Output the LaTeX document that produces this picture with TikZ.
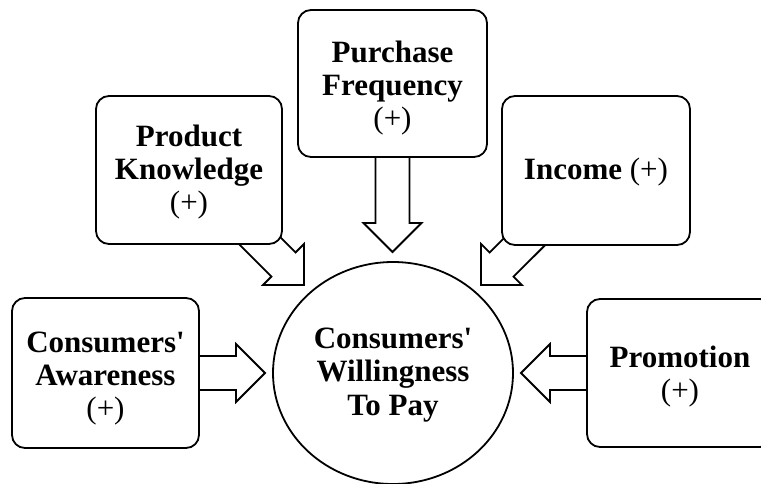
\documentclass[tikz,border=0pt]{standalone}
\usepackage{fontspec}
\setmainfont{Liberation Serif}
\usetikzlibrary{calc,shapes.geometric,backgrounds}
\tikzset{
  box/.style={draw,line width=1.8pt,fill=white,rounded corners=13pt,inner sep=0pt},
  txt/.style={align=center,inner sep=0pt,font=\fontsize{31}{33}\selectfont\bfseries},
  circ/.style={draw,line width=1.8pt,fill=white,ellipse,
    minimum width=240pt,minimum height=222pt,inner sep=0pt},
  barrow/.style={draw,line width=1.8pt,fill=white,line join=miter}
}
\newcommand\blockarrow[2]{%
  \path coordinate (hb) at ($(#2)!29pt!(#1)$);
  \path[barrow] ($(#1)!17pt!90:(#2)$) -- ($(hb)!17pt!90:(#2)$) -- ($(hb)!29pt!90:(#2)$)
    -- (#2) -- ($(hb)!29pt!-90:(#2)$) -- ($(hb)!17pt!-90:(#2)$)
    -- ($(#1)!17pt!-90:(#2)$) -- cycle;
}
\begin{document}
\begin{tikzpicture}[x=1pt,y=-1pt]
\useasboundingbox (0,0) rectangle (761,483);
\node[circ] (wtp) at (393,373) {};
\node[box,minimum width=187pt,minimum height=150pt] (aw) at (105.5,373) {};
\node[box,minimum width=186pt,minimum height=148pt] (pk) at (189,170) {};
\node[box,minimum width=189pt,minimum height=147pt] (pf) at (392.5,83.5) {};
\node[box,minimum width=188pt,minimum height=149pt] (inc) at (596,170.5) {};
\node[box,minimum width=186pt,minimum height=148pt] (pr) at (680,373) {};
\node[txt,font=\fontsize{31}{33.5}\selectfont\bfseries] (wtpt) at ($(wtp.center)+(0,2)$) {Consumers\textquotesingle\\Willingness\\To Pay};
\node[txt] (awt) at ($(aw.center)+(0,6)$) {Consumers\textquotesingle\\Awareness\\{\mdseries(+)}};
\node[txt] (pkt) at ($(pk.center)+(0,2)$) {Product\\Knowledge\\{\mdseries(+)}};
\node[txt] (pft) at ($(pf.center)+(0,5)$) {Purchase\\Frequency\\{\mdseries(+)}};
\node[txt] (inct) at ($(inc.center)+(0,2)$) {Income {\mdseries(+)}};
\node[txt] (prt) at ($(pr.center)+(0,4)$) {Promotion\\{\mdseries(+)}};
\coordinate (taw) at (265,373);
\coordinate (tpk) at (304,285);
\coordinate (tpf) at (392.5,252);
\coordinate (tinc) at (481,285);
\coordinate (tpr) at (521,373);
\begin{pgfonlayer}{background}
\blockarrow{aw.center}{taw}
\blockarrow{pk.center}{tpk}
\blockarrow{pf.center}{tpf}
\blockarrow{inc.center}{tinc}
\blockarrow{pr.center}{tpr}
\end{pgfonlayer}
\end{tikzpicture}
\end{document}
